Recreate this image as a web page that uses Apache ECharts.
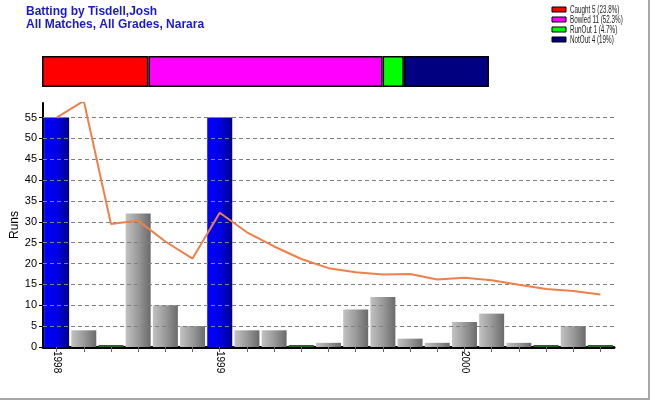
<!DOCTYPE html>
<html>
<head>
<meta charset="utf-8">
<script src="https://cdn.jsdelivr.net/npm/echarts@6/dist/echarts.min.js"></script>
<style>
html,body{margin:0;padding:0;background:#fff;}
#chart{width:650px;height:400px;box-sizing:border-box;border-right:2px solid #a8a8a8;border-bottom:2px solid #a8a8a8;}
</style>
</head>
<body>
<div id="chart"></div>
<script>
// Data
var xLabels = ['1998','','','','','','1999','','','','','','','','','2000','','','','',''];
var runs = [55,4,0,32,10,5,55,4,4,0,1,9,12,2,1,6,8,1,0,5,0];
// bar kind: 'fifty' (blue), 'score' (gray), 'duck' (green line)
var kinds = ['fifty','score','duck','score','score','score','fifty','score','score','duck','score','score','score','score','score','score','score','score','duck','score','duck'];
var average = [55,59,29.5,30.3,25.3,21.2,32.2,27.5,24.1,21.1,18.9,17.9,17.4,17.5,16.2,16.6,16.0,14.9,13.9,13.4,12.6];
var dismissalNames = ['Caught 5 (23.8%)','Bowled 11 (52.3%)','RunOut 1 (4.7%)','NotOut 4 (19%)'];
var dismissalCounts = [5,11,1,4];
var dismissalColors = ['#ff0000','#ff00ff','#00ff00','#000080'];
var yTicks = [0,5,10,15,20,25,30,35,40,45,50,55];
var titleLines = ['Batting by Tisdell,Josh','All Matches, All Grades, Narara'];

function pick(kind){
  return runs.map(function(v,i){ return kinds[i]===kind ? v : '-'; });
}

var chart = echarts.init(document.getElementById('chart'), null, {renderer:'canvas'});

var grayGrad = new echarts.graphic.LinearGradient(0,0,1,0,[
  {offset:0,color:'#c2c2c2'},{offset:0.5,color:'#9a9a9a'},{offset:1,color:'#6a6a6a'}]);
var blueGrad = new echarts.graphic.LinearGradient(0,0,1,0,[
  {offset:0,color:'#0000ff'},{offset:0.55,color:'#0000e2'},{offset:1,color:'#00008c'}]);

var series = [
  {name:'fifty',type:'bar',xAxisIndex:0,yAxisIndex:0,data:pick('fifty'),barWidth:25,barGap:'-100%',
   itemStyle:{color:blueGrad},silent:true},
  {name:'score',type:'bar',xAxisIndex:0,yAxisIndex:0,data:pick('score'),barWidth:25,barGap:'-100%',
   itemStyle:{color:grayGrad},silent:true},
  {name:'duck',type:'bar',xAxisIndex:0,yAxisIndex:0,data:pick('duck'),barWidth:25,barGap:'-100%',barMinHeight:2,
   itemStyle:{color:'#226622'},silent:true,
   markLine:{silent:true,symbol:'none',label:{show:false},
     lineStyle:{color:'#808080',type:[4,3],width:1},
     data:yTicks.filter(function(t){return t>0;}).map(function(t){return {yAxis:t};})}},
  {name:'avg',type:'line',xAxisIndex:0,yAxisIndex:0,data:average,showSymbol:false,symbol:'none',
   lineStyle:{color:'#f0804a',width:2},itemStyle:{color:'#f0804a'},z:5,silent:true}
];
dismissalNames.forEach(function(n,i){
  series.push({name:n,type:'bar',xAxisIndex:1,yAxisIndex:1,stack:'d',data:[dismissalCounts[i]],
    barWidth:'100%',itemStyle:{color:dismissalColors[i],borderColor:'#000',borderWidth:1.5},silent:true});
});

// legend drawn as graphic (narrow text)
var legendGraphics = [];
dismissalNames.forEach(function(n,i){
  legendGraphics.push({type:'rect',x:552,y:7+i*10,shape:{x:0,y:0,width:14,height:5},
    style:{fill:dismissalColors[i],stroke:'#000',lineWidth:1},silent:true});
  legendGraphics.push({type:'text',x:570,y:10+i*10,scaleX:0.63,
    style:{text:n,font:'10px Arial, "Liberation Sans", sans-serif',fill:'#222',verticalAlign:'middle'},silent:true});
});

chart.setOption({
  animation:false,
  backgroundColor:'#fff',
  title:{
    text:titleLines.join('\n'),
    left:26, top:5, padding:0,
    textStyle:{fontFamily:'Arial,"Liberation Sans",sans-serif',fontWeight:'bold',fontSize:12,color:'#1a1acc',lineHeight:13}
  },
  graphic:legendGraphics,
  grid:[
    {left:43,right:34,top:103,bottom:51,outerBoundsMode:'none'},
    {left:42,right:159,top:56,height:31,outerBoundsMode:'none'}
  ],
  xAxis:[
    {type:'category',gridIndex:0,data:xLabels,boundaryGap:true,
     axisLine:{lineStyle:{color:'#000',width:3}},
     axisTick:{show:true,alignWithLabel:true,interval:0,length:5,lineStyle:{color:'#666'}},
     axisLabel:{interval:0,rotate:-90,fontSize:10,color:'#000',margin:4,fontFamily:'Arial,"Liberation Sans",sans-serif'}},
    {type:'value',gridIndex:1,min:0,max:21,show:false}
  ],
  yAxis:[
    {type:'value',gridIndex:0,min:0,max:58.5,interval:5,
     name:'Runs',nameLocation:'middle',nameGap:22,nameRotate:90,nameMoveOverlap:false,
     nameTextStyle:{fontSize:12,color:'#000',fontFamily:'Arial,"Liberation Sans",sans-serif'},
     axisLine:{show:true,lineStyle:{color:'#000',width:2}},
     axisTick:{show:true,length:4,lineStyle:{color:'#000'}},
     axisLabel:{fontSize:11,color:'#000',margin:6,showMaxLabel:false,fontFamily:'Arial,"Liberation Sans",sans-serif',
       formatter:function(v){return v%5===0? String(v):'';}},
     splitLine:{show:false}},
    {type:'category',gridIndex:1,data:['d'],show:false}
  ],
  series:series
});
</script>
</body>
</html>
